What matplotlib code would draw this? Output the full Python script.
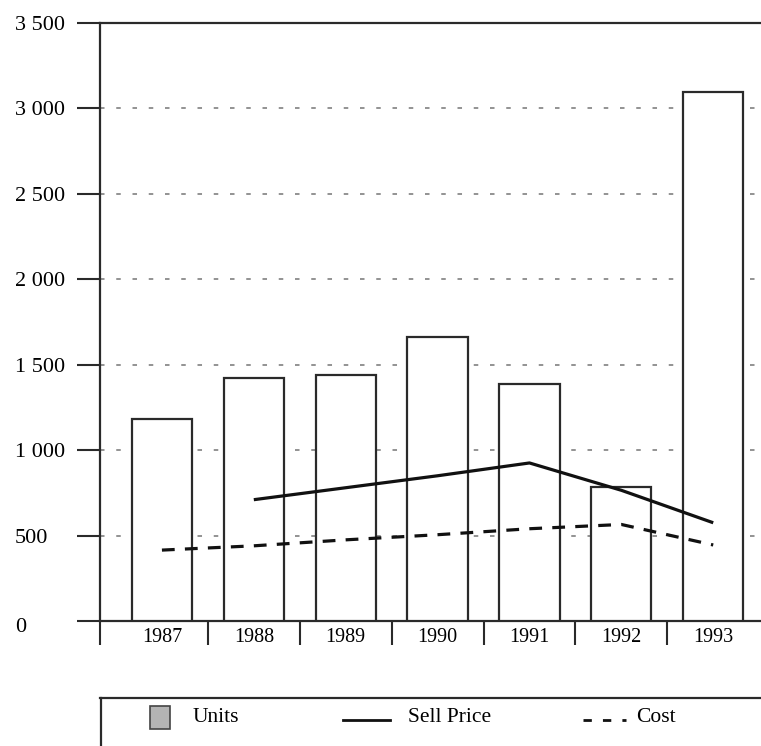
import matplotlib
matplotlib.use("Agg")
import matplotlib.pyplot as plt
from matplotlib.patches import Rectangle
from matplotlib.lines import Line2D
import matplotlib.transforms as mtransforms
import numpy as np

years = ["1987", "1988", "1989", "1990", "1991", "1992", "1993"]
units = [1180, 1425, 1440, 1665, 1385, 785, 3095]
sell_price = [np.nan, 710, 780, 850, 925, 765, 575]
cost = [415, 440, 475, 505, 540, 565, 445]
y_ticks = [0, 500, 1000, 1500, 2000, 2500, 3000, 3500]
y_tick_labels = ["0", "500", "1 000", "1 500", "2 000", "2 500", "3 000", "3 500"]
legend_labels = ["Units", "Sell Price", "Cost"]

plt.rcParams['font.family'] = ['Liberation Serif', 'DejaVu Serif']
W, H = 761, 746
fig = plt.figure(figsize=(W / 100, H / 100), dpi=100)
ax = fig.add_axes([100 / W, (H - 621) / H, 661 / W, (621 - 23) / H])

ink = '#2a2a2a'
x = np.arange(len(years))
ax.bar(x, units, width=0.655, facecolor='white', edgecolor=ink, linewidth=1.6, zorder=3)
ax.plot(x, sell_price, color='#111111', lw=2.3, zorder=4, solid_capstyle='butt')
ax.plot(x, cost, color='#111111', lw=2.3, dashes=(4, 3.2), zorder=4)

ax.set_xlim(-0.674, 6.52)
ax.set_ylim(0, 3500)

# gridlines
for v in y_ticks[1:-1]:
    ax.axhline(v, color='#8a8a8a', lw=1.3, dashes=(2.5, 6.5), zorder=1)

ax.set_yticks(y_ticks)
ax.set_yticklabels(y_tick_labels, fontsize=16)
ax.tick_params(axis='y', direction='out', length=16.5, width=1.5, color=ink, pad=44.6)
for lab in ax.get_yticklabels():
    lab.set_horizontalalignment('left')
zero_lab = ax.get_yticklabels()[0]
zero_lab.set_transform(zero_lab.get_transform() +
                       mtransforms.ScaledTranslation(0, -4 / 100, fig.dpi_scale_trans))

ax.set_xticks(x)
ax.set_xticklabels(years, fontsize=14.5)
ax.tick_params(axis='x', which='major', length=0, pad=5)
ax.set_xticks([-0.674, 0.5, 1.5, 2.5, 3.5, 4.5, 5.5], minor=True)
ax.tick_params(axis='x', which='minor', direction='out', length=17, width=1.5, color=ink)

for s in ['left', 'top', 'bottom']:
    ax.spines[s].set_color(ink)
    ax.spines[s].set_linewidth(1.6)
ax.spines['right'].set_visible(False)

# legend area
lax = fig.add_axes([100 / W, 0, 661 / W, 49 / H])
lax.set_xlim(100, 761)
lax.set_ylim(746, 697)
lax.axis('off')
lax.add_line(Line2D([100, 761], [697.5, 697.5], color=ink, lw=1.6, clip_on=False))
lax.add_line(Line2D([100.5, 100.5], [697.5, 746], color=ink, lw=1.6, clip_on=False))
lax.add_patch(Rectangle((150, 706), 20, 23, facecolor='#b4b4b4', edgecolor='#444444', lw=1.2))
lax.text(193, 718, legend_labels[0], fontsize=15.5, va='center', ha='left')
lax.add_line(Line2D([343, 390], [720, 720], color='#111111', lw=2.0))
lax.text(408, 718, legend_labels[1], fontsize=15.5, va='center', ha='left')
lax.add_line(Line2D([583, 626], [720, 720], color='#111111', lw=2.0, dashes=(3, 4)))
lax.text(636, 718, legend_labels[2], fontsize=15.5, va='center', ha='left')

fig.savefig("out.png", dpi=100)
